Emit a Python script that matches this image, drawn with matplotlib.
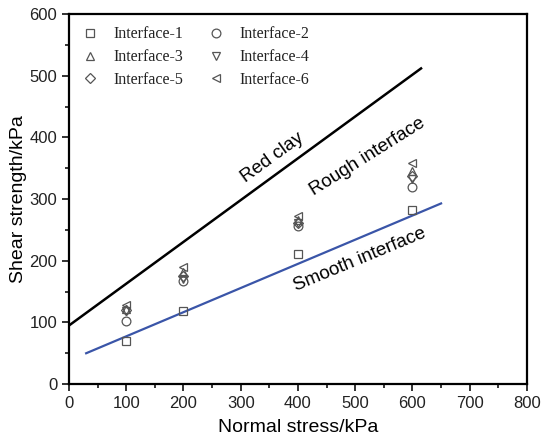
import matplotlib
matplotlib.use("Agg")
import matplotlib.pyplot as plt
from matplotlib.ticker import MultipleLocator

# Normal stress levels (kPa)
stress = [100, 200, 400, 600]

# Shear strength (kPa) of each interface
interface_1 = [70, 118, 211, 282]
interface_2 = [102, 168, 256, 320]
interface_3 = [122, 182, 266, 345]
interface_4 = [118, 170, 262, 332]
interface_5 = [120, 175, 262, 338]
interface_6 = [128, 190, 272, 358]

series_names = ["Interface-1", "Interface-2", "Interface-3",
                "Interface-4", "Interface-5", "Interface-6"]
series_values = [interface_1, interface_2, interface_3,
                 interface_4, interface_5, interface_6]
markers = ["s", "o", "^", "v", "D", "<"]

# Strength envelopes: (x_start, y_start) -> (x_end, y_end)
red_clay_x = [0, 615]
red_clay_y = [95, 512]
smooth_x = [30, 650]
smooth_y = [50, 293]

plt.rcParams["font.family"] = ["Liberation Sans", "DejaVu Sans"]

fig = plt.figure(figsize=(5.41, 4.43), dpi=100)
ax = fig.add_axes([0.1275, 0.133, 0.8465, 0.835])

ax.plot(red_clay_x, red_clay_y, color="black", lw=1.8, zorder=2)
ax.plot(smooth_x, smooth_y, color="#3a55a8", lw=1.6, zorder=2)

handles = []
for name, vals, m in zip(series_names, series_values, markers):
    ms = 5.5 if m == "D" else 6.3
    h, = ax.plot(stress, vals, linestyle="none", marker=m, ms=ms,
                 mfc="none", mec="#555555", mew=0.9, label=name, zorder=3)
    handles.append(h)

# Legend in two columns, row-major order
order = [0, 2, 4, 1, 3, 5]
leg = ax.legend([handles[i] for i in order], [series_names[i] for i in order],
                ncol=2, loc="upper left", frameon=False,
                prop={"family": "Liberation Serif", "size": 11.5},
                bbox_to_anchor=(-0.01, 1.01), handlelength=1.2,
                handletextpad=0.9, columnspacing=1.4, labelspacing=0.42,
                borderaxespad=0.6)
for t in leg.get_texts():
    t.set_color("#222222")

ax.text(356, 368, "Red clay", rotation=36, ha="center", va="center",
        fontsize=13.5)
ax.text(521, 368, "Rough interface", rotation=32, ha="center", va="center",
        fontsize=13.5)
ax.text(508, 201, "Smooth interface", rotation=22.5, ha="center", va="center",
        fontsize=13.5)

ax.set_xlim(0, 800)
ax.set_ylim(0, 600)
ax.xaxis.set_major_locator(MultipleLocator(100))
ax.xaxis.set_minor_locator(MultipleLocator(50))
ax.yaxis.set_major_locator(MultipleLocator(100))
ax.yaxis.set_minor_locator(MultipleLocator(50))
ax.tick_params(which="major", direction="out", length=5, width=1.3,
               labelsize=12, colors="#222222")
ax.tick_params(which="minor", direction="out", length=3, width=1.1)
for s in ax.spines.values():
    s.set_linewidth(1.6)

ax.set_xlabel("Normal stress/kPa", fontsize=14, labelpad=6)
ax.set_ylabel("Shear strength/kPa", fontsize=14, labelpad=2)

fig.savefig("out.png", dpi=100, facecolor="white")
